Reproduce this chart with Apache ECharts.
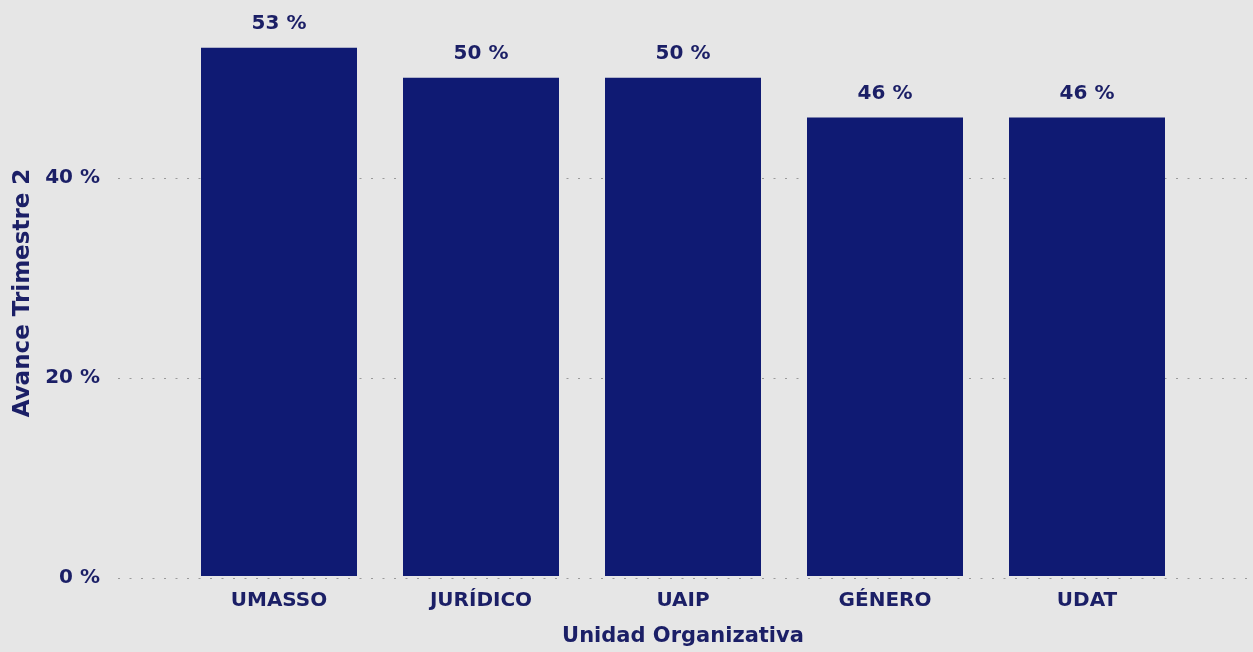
<!DOCTYPE html>
<html>
<head>
<meta charset="utf-8">
<script src="https://cdn.jsdelivr.net/npm/echarts@6/dist/echarts.min.js"></script>
<style>
  html, body { margin: 0; padding: 0; background: #e6e6e6; }
  #chart { width: 1253px; height: 652px; }
</style>
</head>
<body>
<div id="chart"></div>
<script>
// datos del gráfico
var categorias = ['UMASSO', 'JURÍDICO', 'UAIP', 'GÉNERO', 'UDAT'];
var avance = [53, 50, 50, 46, 46];
var ticksY = [0, 20, 40];

var colorTexto = '#1b1f66';
var colorBarra = '#0f1a73';
var fuente = 'DejaVu Sans';

var myechart = echarts.init(document.getElementById('chart'));
window.onresize = () => {
  myechart.resize();
}
myechart.setOption({
  backgroundColor: '#e6e6e6',
  textStyle: { fontFamily: fuente },
  grid: [
    // barras
    { left: 178, right: 65, top: 8, bottom: 74 },
    // líneas de fondo y etiquetas del eje Y
    { left: 118, right: 0, top: 8, bottom: 74 }
  ],
  xAxis: [
    {
      type: 'category',
      gridIndex: 0,
      data: categorias,
      axisLine: { show: false },
      axisTick: { show: false },
      axisLabel: { color: colorTexto, fontSize: 20, fontWeight: 'bold', margin: 15 },
      name: 'Unidad Organizativa',
      nameLocation: 'middle',
      nameGap: 50,
      nameTextStyle: { color: colorTexto, fontSize: 21, fontWeight: 'bold' }
    },
    { type: 'value', gridIndex: 1, show: false }
  ],
  yAxis: [
    {
      type: 'value',
      gridIndex: 0,
      min: 0, max: 57, interval: 20,
      axisLabel: { show: false },
      splitLine: { show: false },
      axisLine: { show: false },
      axisTick: { show: false }
    },
    {
      type: 'value',
      gridIndex: 1,
      min: 0, max: 57, interval: 20,
      axisLine: { show: false },
      axisTick: { show: false },
      axisLabel: {
        color: colorTexto, fontSize: 20, fontWeight: 'bold', margin: 18,
        showMaxLabel: false,
        formatter: function (v) { return ticksY.indexOf(v) >= 0 ? v + ' %' : ''; }
      },
      // líneas punteadas que cruzan todo el ancho
      splitLine: { showMaxLine: false, lineStyle: { color: '#9a9a9a', type: [2, 9.5], width: 1 } },
      name: 'Avance Trimestre 2',
      nameLocation: 'middle',
      nameGap: 75,
      nameTextStyle: { color: colorTexto, fontSize: 23, fontWeight: 'bold' }
    }
  ],
  series: [
    {
      type: 'bar',
      xAxisIndex: 0,
      yAxisIndex: 0,
      data: avance,
      barWidth: 156,
      itemStyle: { color: colorBarra },
      label: {
        show: true,
        position: 'top',
        distance: 14,
        color: colorTexto,
        fontSize: 20,
        fontWeight: 'bold',
        formatter: '{c} %'
      },
      z: 3
    }
  ]
});
</script>
</body>
</html>
